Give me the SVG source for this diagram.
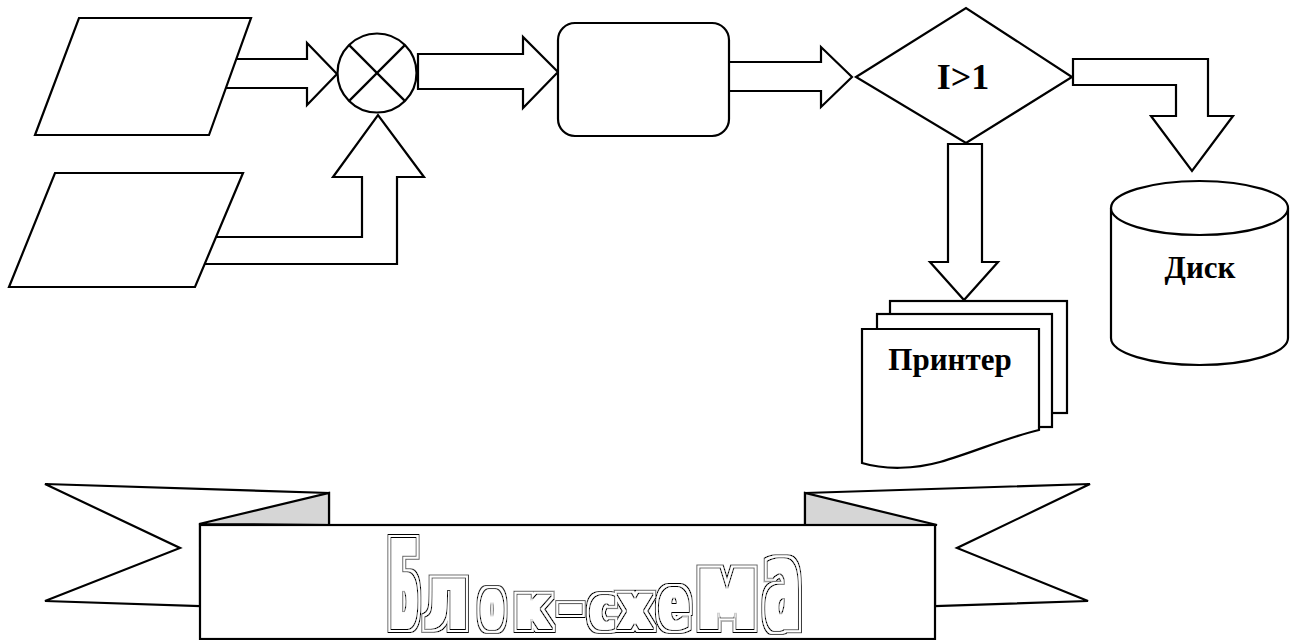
<svg xmlns="http://www.w3.org/2000/svg" width="1293" height="640" viewBox="0 0 1293 640">
<style>
.s{fill:#fff;stroke:#000;stroke-width:2.2;stroke-linejoin:miter}
.n{fill:none;stroke:#000;stroke-width:2.2}
.sh{fill:#d6d6d6;stroke:#000;stroke-width:2.2;stroke-linejoin:miter}
.lbl{font-family:"Liberation Serif","DejaVu Serif",serif;font-weight:bold;fill:#000;text-anchor:middle}
.ban{font-family:"DejaVu Sans Condensed","Liberation Sans Narrow","Liberation Sans",sans-serif;font-weight:bold;fill:#000}
</style>
<defs>
<filter id="dbl" x="-5%" y="-20%" width="110%" height="140%">
<feMorphology in="SourceAlpha" operator="dilate" radius="2.6 1" result="base"/>
<feMorphology in="base" operator="dilate" radius="3.2" result="d3"/>
<feMorphology in="base" operator="dilate" radius="1.6" result="d1"/>
<feMorphology in="base" operator="erode" radius="1.4" result="e1"/>
<feComposite in="d3" in2="d1" operator="out" result="ring1"/>
<feComposite in="base" in2="e1" operator="out" result="ring2"/>
<feFlood flood-color="#fff" result="white"/>
<feComposite in="white" in2="d3" operator="in" result="bg"/>
<feMerge><feMergeNode in="bg"/><feMergeNode in="ring1"/><feMergeNode in="ring2"/></feMerge>
</filter>
</defs>
<rect width="1293" height="640" fill="#fff"/>
<g id="connectors">
<polyline class="s" points="236,59 307,59 307,43 337,74 307,105 307,88 226,88"/>
<polyline class="s" points="216,237 362,237 362,177 333,177 378,115 424,177 397,177 397,264 205,264"/>
<polygon class="s" points="418,54 523,54 523,37 558,72 523,108 523,89 418,89"/>
<polyline class="s" points="729,62 821,62 821,47 852,77 821,107 821,91 729,91"/>
<polygon class="s" points="1073,59 1208,59 1208,116 1233,116 1192,171 1151,116 1176,116 1176,85 1073,85"/>
<polygon class="s" points="948,144 948,262 930,262 964,300 998,262 982,262 982,144"/>
</g>
<g id="input1"><polygon class="s" points="79,18 251,18 209,135 35,135"/></g>
<g id="input2"><polygon class="s" points="55,173 243,173 195,287 9,287"/></g>
<g id="junction">
<circle class="s" cx="377" cy="73" r="39.5"/>
<line class="n" x1="349.4" y1="45.4" x2="404.6" y2="100.6"/>
<line class="n" x1="349.4" y1="100.6" x2="404.6" y2="45.4"/>
</g>
<g id="process"><rect class="s" x="558" y="23" width="171" height="113" rx="17" ry="17"/></g>
<g id="decision">
<polygon class="s" points="856,77 966,8 1072,77 966,143"/>
<text class="lbl" x="963" y="89" font-size="36">I&gt;1</text>
</g>
<g id="disk">
<path class="s" d="M1111,208 V338 A88.5,27 0 0 0 1288,338 V208"/>
<ellipse class="s" cx="1199.5" cy="208" rx="88.5" ry="27"/>
<text class="lbl" x="1200" y="278" font-size="31">Диск</text>
</g>
<g id="printer">
<rect class="s" x="890" y="301" width="177" height="112"/>
<rect class="s" x="877" y="314" width="175" height="113"/>
<path class="s" d="M862,329 H1039 V430 C1005,438 975,452 940,462 C915,469 885,470 862,463 Z"/>
<text class="lbl" x="950" y="370" font-size="31">Принтер</text>
</g>
<g id="banner">
<polygon class="s" points="45,484 329,493 329,525 200,525 200,606 45,601 180,548"/>
<polygon class="sh" points="199,524 329,493 329,525"/>
<polygon class="s" points="805,493 1090,484 957,548 1088,601 935,606 935,525 805,525"/>
<polygon class="sh" points="805,493 805,525 937,525"/>
<rect class="s" x="200" y="525" width="735" height="114"/>
<text class="ban" y="629" filter="url(#dbl)"><tspan x="390" font-size="124" textLength="28" lengthAdjust="spacingAndGlyphs">Б</tspan><tspan x="424" font-size="92" textLength="44" lengthAdjust="spacingAndGlyphs">л</tspan><tspan x="481" font-size="72" textLength="22" lengthAdjust="spacingAndGlyphs">о</tspan><tspan x="515" font-size="62" textLength="36" lengthAdjust="spacingAndGlyphs">к</tspan><tspan x="558" font-size="70" textLength="25" lengthAdjust="spacingAndGlyphs">-</tspan><tspan x="590" font-size="60" textLength="25" lengthAdjust="spacingAndGlyphs">с</tspan><tspan x="618" font-size="64" textLength="34" lengthAdjust="spacingAndGlyphs">х</tspan><tspan x="659" font-size="74" textLength="30" lengthAdjust="spacingAndGlyphs">е</tspan><tspan x="696" font-size="110" textLength="62" lengthAdjust="spacingAndGlyphs">м</tspan><tspan x="765" font-size="126" textLength="35" lengthAdjust="spacingAndGlyphs">а</tspan></text>
</g>
</svg>
